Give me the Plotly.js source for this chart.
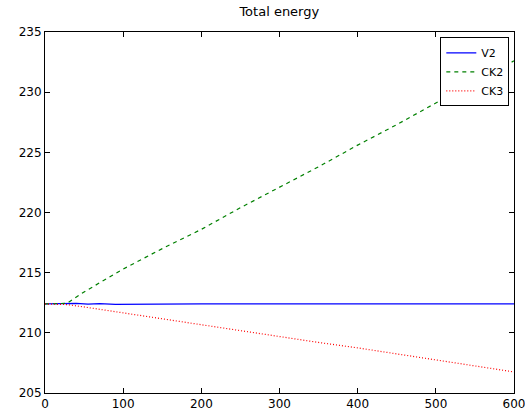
<!DOCTYPE html>
<html>
<head>
<meta charset="utf-8">
<script src="https://cdn.plot.ly/plotly-3.0.1.min.js"></script>
<style>html,body{margin:0;padding:0;background:#fff;}</style>
</head>
<body>
<div id="chart" style="width:525px;height:412px;"></div>
<script>
var stepsV2 = [0, 20, 40, 55, 70, 90, 150, 200, 300, 400, 500, 600];
var energyV2 = [212.4, 212.4, 212.45, 212.38, 212.43, 212.37, 212.4, 212.4, 212.4, 212.4, 212.4, 212.4];

var stepsCK = [0, 28, 50, 100, 150, 200, 250, 300, 350, 400, 450, 500, 550, 600];
var energyCK2 = [212.4, 212.45, 213.4, 215.3, 217.0, 218.6, 220.4, 222.1, 223.8, 225.6, 227.3, 229.1, 230.9, 232.6];
var energyCK3 = [212.4, 212.35, 212.15, 211.65, 211.15, 210.65, 210.2, 209.7, 209.2, 208.75, 208.25, 207.75, 207.25, 206.75];

var seriesNames = ['V2', 'CK2', 'CK3'];
var xTicks = [0, 100, 200, 300, 400, 500, 600];
var yTicks = [205, 210, 215, 220, 225, 230, 235];

var traces = [
  {x: stepsV2, y: energyV2, name: seriesNames[0], mode: 'lines', line: {color: '#0000ff', width: 1.2, dash: 'solid'}},
  {x: stepsCK, y: energyCK2, name: seriesNames[1], mode: 'lines', line: {color: '#008000', width: 1.2, dash: '4px,4px'}},
  {x: stepsCK, y: energyCK3, name: seriesNames[2], mode: 'lines', line: {color: '#ff0000', width: 1.2, dash: '1px,2px'}}
];

var axisCommon = {
  showgrid: false, zeroline: false, showline: true, linecolor: '#000', linewidth: 1,
  mirror: 'ticks', ticks: 'inside', ticklen: 5, tickcolor: '#000',
  ticklabeloverflow: 'allow',
  tickfont: {family: 'DejaVu Sans', size: 12, color: '#000'}
};

var layout = {
  width: 525, height: 412,
  margin: {l: 45, r: 11, t: 32, b: 19, pad: 0},
  paper_bgcolor: '#fff', plot_bgcolor: '#fff',
  title: {text: 'Total energy', font: {family: 'DejaVu Sans', size: 13, color: '#000'}, x: 0.532, xanchor: 'center', y: 0.972, yanchor: 'middle'},
  xaxis: Object.assign({}, axisCommon, {range: [0, 600], tickvals: xTicks, ticktext: xTicks.map(String)}),
  yaxis: Object.assign({}, axisCommon, {range: [205, 235], tickvals: yTicks, ticktext: yTicks.map(String)}),
  showlegend: true,
  legend: {x: 0.99, y: 0.985, xanchor: 'right', yanchor: 'top', bgcolor: '#fff', bordercolor: '#000', borderwidth: 1,
           font: {family: 'DejaVu Sans', size: 11, color: '#000'}, tracegroupgap: 0, itemwidth: 30}
};

Plotly.newPlot('chart', traces, layout, {displayModeBar: false, staticPlot: true});
</script>
</body>
</html>
